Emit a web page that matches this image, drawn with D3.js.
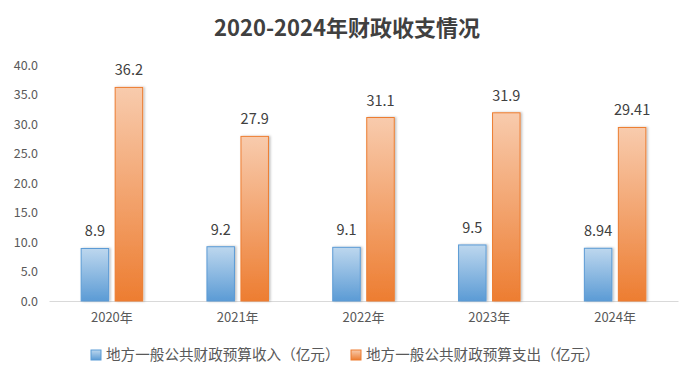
<!DOCTYPE html>
<html><head><meta charset="utf-8">
<script src="https://cdn.jsdelivr.net/npm/d3@7"></script>
<style>body{margin:0;background:#fff;}svg{display:block;}</style>
</head><body>
<svg id="c" width="696" height="380"></svg>
<script>
const years = ["2020年","2021年","2022年","2023年","2024年"];
const income = [8.9, 9.2, 9.1, 9.5, 8.94];
const expense = [36.2, 27.9, 31.1, 31.9, 29.41];
const incomeLabels = ["8.9","9.2","9.1","9.5","8.94"];
const expenseLabels = ["36.2","27.9","31.1","31.9","29.41"];
const yTicks = [0,5,10,15,20,25,30,35,40];
const seriesNames = ["地方一般公共财政预算收入（亿元）","地方一般公共财政预算支出（亿元）"];

const svg = d3.select("#c");
const font = "'Microsoft YaHei','Noto Sans CJK SC','DejaVu Sans',sans-serif";
const defs = svg.append("defs");
function grad(id, top, bottom){
  const g = defs.append("linearGradient").attr("id",id).attr("x1",0).attr("y1",0).attr("x2",0).attr("y2",1);
  g.append("stop").attr("offset","0%").attr("stop-color",top);
  g.append("stop").attr("offset","100%").attr("stop-color",bottom);
}
grad("gb","#bdd7ee","#5b9bd5");
grad("go","#f8cbad","#ed7d31");
const f = defs.append("filter").attr("id","sh").attr("x","-20%").attr("y","-5%").attr("width","150%").attr("height","110%");
f.append("feDropShadow").attr("dx",1.5).attr("dy",0).attr("stdDeviation",1.2).attr("flood-color","#000").attr("flood-opacity",0.25);

const x = d3.scaleBand().domain(years).range([49,678]);
const y = d3.scaleLinear().domain([0,40]).range([301,65]);

svg.append("text").attr("x",347).attr("y",36).attr("text-anchor","middle")
  .attr("font-family",font).attr("font-weight","bold").attr("font-size",22).attr("fill","#404040")
  .text("2020-2024年财政收支情况");

const yAxis = svg.append("g").attr("transform","translate(41,0)")
  .call(d3.axisLeft(y).tickValues(yTicks).tickFormat(d3.format(".1f")).tickSize(0));
yAxis.select(".domain").remove();
yAxis.selectAll("text").attr("font-family",font).attr("font-size",12.5).attr("fill","#595959");

const xAxis = svg.append("g").attr("transform","translate(0,301)")
  .call(d3.axisBottom(x).tickSize(0).tickPadding(12));
xAxis.select(".domain").attr("stroke","#d9d9d9").attr("stroke-width",1);
xAxis.selectAll("text").attr("font-family",font).attr("font-size",13).attr("fill","#595959");

const bw = 27.5, off = 17;
const g = svg.append("g");
g.selectAll(".bi").data(income).join("rect")
  .attr("x",(d,i)=>x(years[i])+x.bandwidth()/2-off-bw/2).attr("width",bw)
  .attr("y",d=>y(d)).attr("height",d=>y(0)-y(d))
  .attr("fill","url(#gb)").attr("stroke","#5b9bd5").attr("stroke-width",1).attr("filter","url(#sh)");
g.selectAll(".bo").data(expense).join("rect")
  .attr("x",(d,i)=>x(years[i])+x.bandwidth()/2+off-bw/2).attr("width",bw)
  .attr("y",d=>y(d)).attr("height",d=>y(0)-y(d))
  .attr("fill","url(#go)").attr("stroke","#ed7d31").attr("stroke-width",1).attr("filter","url(#sh)");

g.selectAll(".li").data(income).join("text")
  .attr("x",(d,i)=>x(years[i])+x.bandwidth()/2-off).attr("y",d=>y(d)-12)
  .attr("text-anchor","middle").attr("font-family",font).attr("font-size",14.5).attr("fill","#404040")
  .text((d,i)=>incomeLabels[i]);
g.selectAll(".lo").data(expense).join("text")
  .attr("x",(d,i)=>x(years[i])+x.bandwidth()/2+off).attr("y",d=>y(d)-12)
  .attr("text-anchor","middle").attr("font-family",font).attr("font-size",14.5).attr("fill","#404040")
  .text((d,i)=>expenseLabels[i]);

const leg = svg.append("g");
const items = [{n:seriesNames[0],f:"url(#gb)",s:"#5b9bd5",x:91},{n:seriesNames[1],f:"url(#go)",s:"#ed7d31",x:351}];
items.forEach(it=>{
  leg.append("rect").attr("x",it.x).attr("y",350).attr("width",10).attr("height",10)
    .attr("fill",it.f).attr("stroke",it.s).attr("stroke-width",1);
  leg.append("text").attr("x",it.x+15).attr("y",360).attr("font-family",font).attr("font-size",14.6)
    .attr("fill","#595959").text(it.n);
});
</script>
</body></html>
